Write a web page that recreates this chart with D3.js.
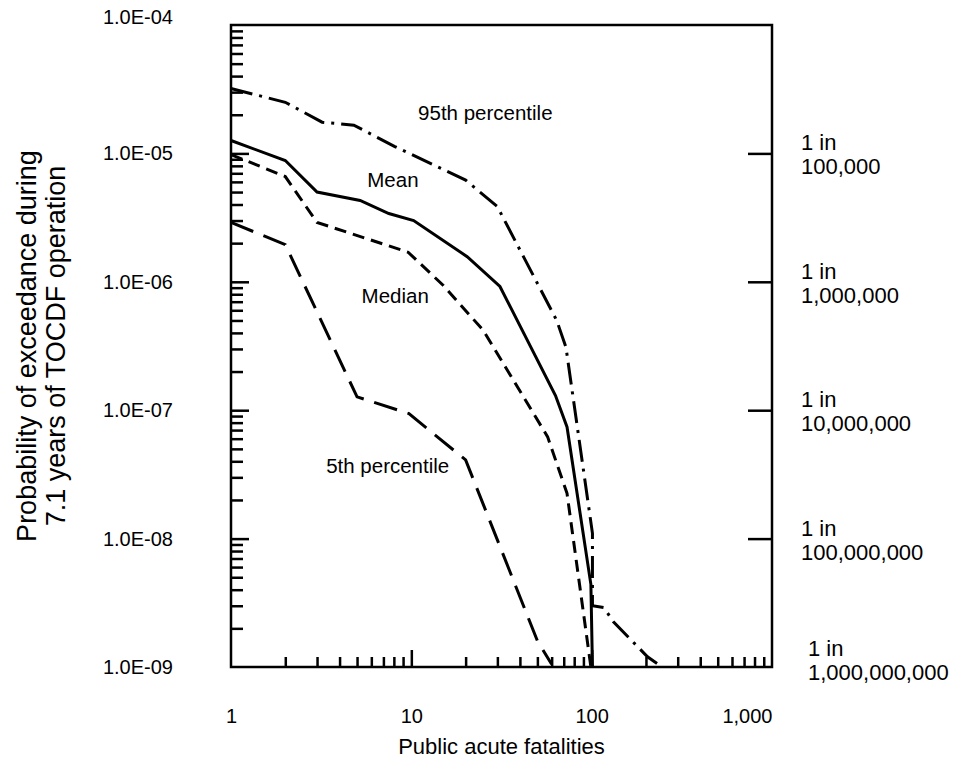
<!DOCTYPE html>
<html>
<head>
<meta charset="utf-8">
<script src="https://cdn.jsdelivr.net/npm/d3@7"></script>
<style>
  body { margin: 0; background: #fff; }
  svg { font-family: "Liberation Sans", Arial, Helvetica, sans-serif; }
</style>
</head>
<body>
<svg id="chart" width="964" height="759"></svg>
<script>
// tick values and labels
const xMajor = [1, 10, 100, 1000];
const xMajorLabels = ["1", "10", "100", "1,000"];
const yMajor = [1e-4, 1e-5, 1e-6, 1e-7, 1e-8, 1e-9];
const yMajorLabels = ["1.0E-04", "1.0E-05", "1.0E-06", "1.0E-07", "1.0E-08", "1.0E-09"];
const rightTicks = [1e-5, 1e-6, 1e-7, 1e-8];
const rightLabelValues = [1e-5, 1e-6, 1e-7, 1e-8, 1e-9];
const rightLabels = ["100,000", "1,000,000", "10,000,000", "100,000,000", "1,000,000,000"];

// curves: public acute fatalities vs probability of exceedance
const fatal95 = [1, 2, 3.2, 4.8, 8.1, 20, 30, 64, 72, 101, 101, 117, 132, 204, 236];
const prob95 = [3.2e-5, 2.5e-5, 1.75e-5, 1.66e-5, 1.13e-5, 6.2e-6, 3.85e-6, 5.0e-7, 3.1e-7, 1.1e-8, 3.0e-9, 2.9e-9, 2.25e-9, 1.2e-9, 1.04e-9];

const fatalMean = [1, 2, 3, 5.2, 7.5, 10.3, 20.4, 31, 63, 73, 99, 101];
const probMean = [1.26e-5, 8.8e-6, 5.0e-6, 4.3e-6, 3.4e-6, 3.0e-6, 1.57e-6, 9.2e-7, 1.3e-7, 7.4e-8, 4.4e-9, 1e-9];

const fatalMedian = [1, 2, 3, 9.6, 15, 25, 57, 73, 99];
const probMedian = [9.8e-6, 6.6e-6, 2.9e-6, 1.7e-6, 9.4e-7, 4.2e-7, 6.2e-8, 2.25e-8, 1e-9];

const fatal5 = [1, 2, 5, 9.7, 20, 50, 60];
const prob5 = [2.9e-6, 1.95e-6, 1.27e-7, 9.4e-8, 4.1e-8, 1.6e-9, 1.05e-9];

// curve label anchors (data units)
const curveNames = ["95th percentile", "Mean", "Median", "5th percentile"];
const curveLabelX = [10.9, 5.7, 5.3, 3.37];
const curveLabelY = [2.06e-5, 6.2e-6, 7.75e-7, 3.67e-8];

const margin = { top: 25, right: 192, bottom: 92, left: 231 };
const width = 964 - margin.left - margin.right;
const height = 759 - margin.top - margin.bottom;

const svg = d3.select("#chart");
const g = svg.append("g").attr("transform", `translate(${margin.left},${margin.top})`);

const x = d3.scaleLog().domain([1, 1000]).range([0, width]);
const y = d3.scaleLog().domain([1e-9, 1e-4]).range([height, 0]);

const xMinor = [];
[1, 10, 100].forEach(d => { for (let k = 2; k <= 9; k++) xMinor.push(k * d); });
const yMinor = [];
[1e-9, 1e-8, 1e-7, 1e-6, 1e-5].forEach(d => { for (let k = 2; k <= 9; k++) yMinor.push(k * d); });

function styleAxis(sel) {
  sel.select(".domain").remove();
  sel.selectAll(".tick line").attr("stroke", "#000").attr("stroke-width", 2.5);
}

// left axis ticks (inward)
g.append("g").call(d3.axisLeft(y).tickValues(yMinor).tickSize(-12).tickFormat("")).call(styleAxis);
g.append("g").call(d3.axisLeft(y).tickValues(yMajor.slice(1, -1)).tickSize(-18).tickFormat("")).call(styleAxis);
g.append("g")
  .call(d3.axisLeft(y).tickValues(yMajor).tickSize(0).tickPadding(58)
    .tickFormat((d, i) => yMajorLabels[i]))
  .call(styleAxis)
  .selectAll("text").attr("font-size", 20).attr("fill", "#000")
  .attr("dy", (d, i) => i === 0 ? "-0.1em" : "0.32em");

// bottom axis ticks (inward)
g.append("g").attr("transform", `translate(0,${height})`)
  .call(d3.axisBottom(x).tickValues(xMinor.filter(v => v !== 10 && v !== 100)).tickSize(-10).tickFormat(""))
  .call(styleAxis);
g.append("g").attr("transform", `translate(0,${height})`)
  .call(d3.axisBottom(x).tickValues([10, 100]).tickSize(-17).tickFormat(""))
  .call(styleAxis);
g.append("g").attr("transform", `translate(0,${height})`)
  .call(d3.axisBottom(x).tickValues(xMajor).tickSize(0).tickPadding(42)
    .tickFormat((d, i) => xMajorLabels[i]))
  .call(styleAxis)
  .selectAll("text").attr("font-size", 20).attr("fill", "#000")
  .attr("text-anchor", (d, i) => i === xMajor.length - 1 ? "end" : "middle");

// right axis ticks (inward)
g.append("g").attr("transform", `translate(${width},0)`)
  .call(d3.axisRight(y).tickValues(rightTicks).tickSize(-24).tickFormat(""))
  .call(styleAxis);

const rl = g.append("g").attr("font-size", 22);
rightLabelValues.forEach((v, i) => {
  const last = i === rightLabelValues.length - 1;
  const lx = width + (last ? 36 : 29);
  const t = rl.append("text").attr("y", y(v));
  t.append("tspan").attr("x", lx).attr("dy", last ? -11 : -3).text("1 in");
  t.append("tspan").attr("x", lx).attr("dy", 24).text(rightLabels[i]);
});

// frame
g.append("rect").attr("width", width).attr("height", height)
  .attr("fill", "none").attr("stroke", "#000").attr("stroke-width", 2.5);

// curves
const line = d3.line().x(d => x(d[0])).y(d => y(d[1]));
const series = [
  { xs: fatal95, ys: prob95, dash: "22,7,3,7" },
  { xs: fatalMean, ys: probMean, dash: null },
  { xs: fatalMedian, ys: probMedian, dash: "12,7" },
  { xs: fatal5, ys: prob5, dash: "24,11" }
];
series.forEach(s => {
  g.append("path")
    .datum(s.xs.map((v, i) => [v, s.ys[i]]))
    .attr("fill", "none")
    .attr("stroke", "#000")
    .attr("stroke-width", 3)
    .attr("stroke-dasharray", s.dash)
    .attr("d", line);
});

// curve labels
curveNames.forEach((name, i) => {
  g.append("text")
    .attr("x", x(curveLabelX[i]))
    .attr("y", y(curveLabelY[i]))
    .attr("dy", "0.35em")
    .attr("font-size", 20.5)
    .text(name);
});

// axis titles
svg.append("text")
  .attr("x", margin.left + width / 2)
  .attr("y", 754)
  .attr("text-anchor", "middle")
  .attr("font-size", 22)
  .text("Public acute fatalities");

const yt = svg.append("text")
  .attr("transform", `translate(0,${margin.top + height / 2}) rotate(-90)`)
  .attr("text-anchor", "middle")
  .attr("font-size", 27);
yt.append("tspan").attr("x", 0).attr("y", 36).text("Probability of exceedance during");
yt.append("tspan").attr("x", 0).attr("y", 65).text("7.1 years of TOCDF operation");
</script>
</body>
</html>
